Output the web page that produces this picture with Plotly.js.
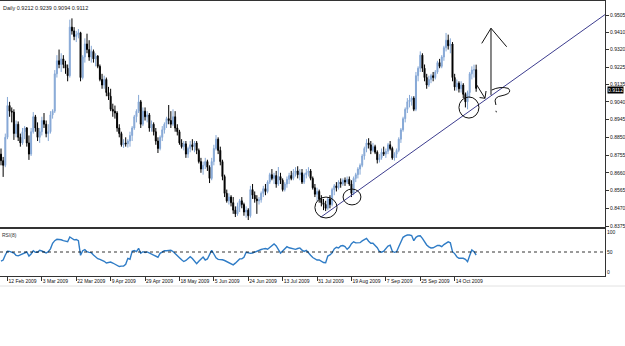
<!DOCTYPE html>
<html>
<head>
<meta charset="utf-8">
<script src="https://cdn.plot.ly/plotly-3.0.1.min.js"></script>
<style>html,body{margin:0;padding:0;background:#fff;}#chart{width:625px;height:346px;}</style>
</head>
<body>
<div id="chart"></div>
<script>
// ---- data (bar index 0..221, daily bars) ----
const barIndex = Array.from({length: 222}, (_, i) => i);

const openP = [
.8760,.8725,.8700,.8850,.9020,.8990,.8985,.8870,.8920,.8850,
.8820,.8880,.8900,.8820,.8760,.8880,.8960,.8900,.8850,.8880,
.8940,.8920,.8870,.8880,.8970,.8990,.9190,.9260,.9240,.9270,
.9240,.9220,.9180,.9440,.9420,.9390,.9400,.9410,.9170,.9280,
.9350,.9320,.9280,.9310,.9270,.9285,.9230,.9160,.9130,.9160,
.9090,.9070,.9000,.8990,.8980,.8900,.8870,.8810,.8820,.8815,
.8830,.8860,.8900,.8960,.8990,.9040,.8920,.8990,.8960,.8970,
.8900,.8920,.8880,.8830,.8790,.8850,.8890,.8920,.8950,.8940,
.8920,.8960,.8900,.8880,.8820,.8800,.8815,.8760,.8790,.8810,
.8800,.8820,.8780,.8720,.8680,.8700,.8720,.8690,.8630,.8720,
.8790,.8840,.8780,.8720,.8640,.8550,.8510,.8530,.8500,.8460,
.8440,.8480,.8510,.8490,.8450,.8460,.8430,.8570,.8540,.8520,
.8510,.8515,.8550,.8575,.8560,.8610,.8650,.8630,.8645,.8600,
.8640,.8620,.8570,.8600,.8625,.8645,.8630,.8660,.8670,.8650,
.8660,.8610,.8650,.8660,.8670,.8630,.8580,.8545,.8560,.8520,
.8500,.8490,.8470,.8520,.8490,.8570,.8590,.8580,.8610,.8600,
.8620,.8610,.8625,.8600,.8550,.8630,.8650,.8680,.8700,.8750,
.8790,.8820,.8810,.8780,.8800,.8770,.8730,.8740,.8770,.8760,
.8775,.8810,.8790,.8740,.8760,.8780,.8840,.8890,.8950,.9000,
.9040,.9050,.9060,.9000,.9180,.9220,.9290,.9220,.9170,.9130,
.9160,.9180,.9170,.9200,.9250,.9230,.9280,.9330,.9370,.9340,
.9350,.9170,.9120,.9140,.9110,.9130,.9080,.9040,.9090,.9190,
.9210,.9212];

const highP = [
.8790,.8745,.8870,.9066,.9040,.9010,.9000,.8940,.8935,.8870,
.8900,.8910,.8905,.8860,.8900,.8985,.8970,.8930,.8900,.8960,
.8980,.8940,.8920,.8990,.9000,.9210,.9290,.9320,.9300,.9290,
.9260,.9240,.9480,.9487,.9440,.9420,.9430,.9415,.9290,.9380,
.9405,.9370,.9340,.9320,.9300,.9290,.9240,.9190,.9180,.9170,
.9120,.9110,.9030,.9020,.8990,.8920,.8880,.8840,.8850,.8840,
.8880,.8910,.8970,.9000,.9077,.9050,.9010,.9010,.8990,.8980,
.8940,.8930,.8900,.8850,.8860,.8910,.8930,.8960,.9023,.8990,
.9000,.8990,.8920,.8890,.8840,.8830,.8830,.8800,.8830,.8840,
.8830,.8830,.8790,.8740,.8720,.8740,.8730,.8700,.8740,.8810,
.8862,.8850,.8800,.8730,.8650,.8570,.8550,.8540,.8530,.8480,
.8500,.8520,.8530,.8500,.8480,.8470,.8590,.8600,.8560,.8540,
.8530,.8560,.8590,.8600,.8620,.8660,.8680,.8660,.8670,.8691,
.8660,.8630,.8610,.8640,.8660,.8670,.8680,.8690,.8695,.8680,
.8680,.8660,.8680,.8690,.8680,.8640,.8600,.8580,.8570,.8540,
.8520,.8510,.8530,.8540,.8580,.8600,.8610,.8620,.8630,.8630,
.8635,.8640,.8640,.8620,.8640,.8660,.8690,.8710,.8760,.8800,
.8840,.8845,.8830,.8820,.8810,.8780,.8760,.8790,.8800,.8790,
.8820,.8830,.8800,.8770,.8790,.8850,.8900,.8960,.9010,.9060,
.9077,.9070,.9070,.9200,.9230,.9310,.9300,.9240,.9190,.9180,
.9190,.9200,.9210,.9260,.9270,.9290,.9340,.9409,.9400,.9380,
.9360,.9190,.9160,.9150,.9150,.9140,.9090,.9100,.9200,.9230,
.9239,.9239];

const lowP = [
.8700,.8638,.8690,.8840,.8960,.8930,.8836,.8850,.8830,.8800,
.8810,.8840,.8800,.8729,.8750,.8870,.8880,.8830,.8820,.8860,
.8900,.8850,.8830,.8870,.8950,.8980,.9170,.9220,.9200,.9220,
.9190,.9150,.9170,.9400,.9370,.9360,.9380,.9150,.9160,.9250,
.9300,.9260,.9250,.9250,.9230,.9220,.9150,.9110,.9110,.9070,
.9050,.8990,.8960,.8950,.8880,.8850,.8800,.8793,.8800,.8795,
.8800,.8830,.8890,.8930,.8980,.8900,.8910,.8940,.8930,.8880,
.8880,.8860,.8810,.8766,.8780,.8830,.8870,.8900,.8920,.8900,
.8910,.8880,.8860,.8810,.8790,.8780,.8740,.8740,.8770,.8780,
.8770,.8760,.8710,.8660,.8650,.8680,.8670,.8605,.8620,.8700,
.8780,.8760,.8700,.8620,.8530,.8500,.8490,.8480,.8440,.8423,
.8430,.8450,.8470,.8430,.8420,.8407,.8420,.8520,.8500,.8440,
.8490,.8500,.8530,.8540,.8550,.8600,.8620,.8600,.8580,.8590,
.8600,.8560,.8560,.8580,.8600,.8620,.8620,.8640,.8630,.8620,
.8600,.8600,.8630,.8640,.8620,.8570,.8530,.8510,.8500,.8480,
.8460,.8455,.8460,.8470,.8480,.8540,.8560,.8570,.8580,.8590,
.8590,.8600,.8590,.8530,.8540,.8610,.8630,.8650,.8690,.8730,
.8770,.8790,.8760,.8770,.8760,.8710,.8715,.8730,.8750,.8740,
.8760,.8780,.8730,.8725,.8740,.8770,.8820,.8880,.8930,.8980,
.9010,.9020,.8990,.8990,.9150,.9200,.9200,.9150,.9110,.9120,
.9140,.9150,.9160,.9190,.9220,.9220,.9260,.9310,.9320,.9300,
.9150,.9100,.9100,.9090,.9090,.9060,.9010,.9000,.9060,.9160,
.9170,.9094];

const closeP = [
.8725,.8700,.8850,.9020,.8990,.8985,.8870,.8920,.8850,.8820,
.8880,.8900,.8820,.8760,.8880,.8960,.8900,.8850,.8880,.8940,
.8920,.8870,.8880,.8970,.8990,.9190,.9260,.9240,.9270,.9240,
.9220,.9180,.9440,.9420,.9390,.9400,.9410,.9170,.9280,.9350,
.9320,.9280,.9310,.9270,.9285,.9230,.9160,.9130,.9160,.9090,
.9070,.9000,.8990,.8980,.8900,.8870,.8810,.8820,.8815,.8830,
.8860,.8900,.8960,.8990,.9040,.8920,.8990,.8960,.8970,.8900,
.8920,.8880,.8830,.8790,.8850,.8890,.8920,.8950,.8940,.8920,
.8960,.8900,.8880,.8820,.8800,.8815,.8760,.8790,.8810,.8800,
.8820,.8780,.8720,.8680,.8700,.8720,.8690,.8630,.8720,.8790,
.8840,.8780,.8720,.8640,.8550,.8510,.8530,.8500,.8460,.8440,
.8480,.8510,.8490,.8450,.8460,.8430,.8570,.8540,.8520,.8510,
.8515,.8550,.8575,.8560,.8610,.8650,.8630,.8645,.8600,.8640,
.8620,.8570,.8600,.8625,.8645,.8630,.8660,.8670,.8650,.8660,
.8610,.8650,.8660,.8670,.8630,.8580,.8545,.8560,.8520,.8500,
.8490,.8470,.8520,.8490,.8570,.8590,.8580,.8610,.8600,.8620,
.8610,.8625,.8600,.8550,.8630,.8650,.8680,.8700,.8750,.8790,
.8820,.8810,.8780,.8800,.8770,.8730,.8740,.8770,.8760,.8775,
.8810,.8790,.8740,.8760,.8780,.8840,.8890,.8950,.9000,.9040,
.9050,.9060,.9000,.9180,.9220,.9290,.9220,.9170,.9130,.9160,
.9180,.9170,.9200,.9250,.9230,.9280,.9330,.9370,.9340,.9350,
.9170,.9120,.9140,.9110,.9130,.9080,.9040,.9090,.9190,.9210,
.9212,.9112];

const rsiValues = [
27.1,29.8,42.5,52.1,51.7,49.2,47.5,41.7,40.3,42.9,
45.8,48.3,50.0,40.0,45.0,53.3,49.2,49.2,54.2,52.5,
50.0,47.5,50.8,57.9,71.7,78.3,81.7,81.7,80.5,78.3,
76.7,75.8,87.5,83.3,80.4,81.4,78.3,41.7,53.3,55.8,
50.8,49.2,48.3,42.5,37.5,33.3,31.7,30.0,26.7,22.5,
24.2,25.0,22.5,20.0,16.7,13.7,14.8,15.0,19.2,34.2,
31.9,51.9,53.8,51.2,59.2,47.0,50.8,48.8,50.3,47.5,
45.0,41.7,38.0,36.9,46.7,51.0,53.3,53.3,54.3,54.2,
51.3,46.7,41.2,35.8,30.4,26.2,28.9,33.3,38.3,33.8,
28.3,20.6,27.0,33.3,37.5,30.0,32.5,43.3,54.2,45.0,
35.4,31.7,31.7,30.5,28.7,25.8,23.3,20.6,17.9,22.1,
27.5,32.8,33.0,36.7,49.2,47.0,46.7,47.5,50.2,52.9,
55.2,56.3,57.7,58.6,56.8,62.2,67.5,70.4,65.0,56.0,
47.3,52.7,58.0,63.3,60.6,59.2,59.2,56.7,58.8,60.2,
54.8,51.5,54.2,49.2,41.7,36.2,32.5,30.0,30.0,26.2,
23.6,23.3,40.0,42.5,47.8,57.5,61.7,60.0,65.0,66.0,
63.3,56.7,61.7,70.8,75.5,72.8,72.3,73.3,77.7,81.3,
83.9,76.9,71.7,71.7,67.3,60.8,51.3,49.5,52.1,60.0,
65.0,67.1,51.7,49.2,50.7,63.3,75.8,86.7,90.4,92.5,
92.5,91.3,78.3,86.7,90.0,90.6,84.2,75.0,67.5,62.8,
60.2,60.5,63.6,66.3,66.1,63.3,68.6,72.6,75.5,72.9,
50.8,46.0,38.3,34.2,34.2,34.2,31.7,25.8,41.2,55.0,
50.8,42.5];

const dateTickIndex = [3,19,35,51,67,83,99,115,131,147,163,179,195,211];
const dateTickText = ["12 Feb 2009","3 Mar 2009","22 Mar 2009","9 Apr 2009","29 Apr 2009",
  "18 May 2009","5 Jun 2009","24 Jun 2009","13 Jul 2009","31 Jul 2009","19 Aug 2009",
  "7 Sep 2009","25 Sep 2009","14 Oct 2009"];
const priceTicks = [0.9505,0.9410,0.9320,0.9225,0.9135,0.9040,0.8945,0.8850,0.8755,0.8660,0.8565,0.8470,0.8375];
const rsiTicks = [0,50,100];
const rsiLevel = 50;
const lastPrice = 0.9112;
const headerText = "Daily 0.9212 0.9239 0.9094 0.9112";
const rsiLabel = "RSI(8)";

// ---- chart ----
const FONT = "Liberation Sans, Arial, sans-serif";
const upColor = "#86a8d6";
const dnColor = "#000000";

const traces = [
  {
    type: "candlestick",
    x: barIndex, open: openP, high: highP, low: lowP, close: closeP,
    xaxis: "x", yaxis: "y",
    increasing: {line: {color: upColor, width: 1}, fillcolor: upColor},
    decreasing: {line: {color: dnColor, width: 1}, fillcolor: dnColor},
    whiskerwidth: 0,
    hoverinfo: "skip",
    showlegend: false
  },
  {
    type: "scatter", mode: "lines",
    x: barIndex, y: rsiValues,
    xaxis: "x2", yaxis: "y2",
    line: {color: "#2f7cc6", width: 1.4},
    hoverinfo: "skip",
    showlegend: false
  }
];

const lineCol = "#333";
const layout = {
  width: 625, height: 346,
  margin: {l: 0, r: 20, t: 1, b: 70},
  paper_bgcolor: "#fff", plot_bgcolor: "#fff",
  font: {family: FONT, size: 5, color: "#111"},
  showlegend: false,
  boxgap: 0.35,
  xaxis: {
    domain: [0, 1], anchor: "y",
    range: [-0.465, 280.93],
    showticklabels: false, ticks: "", showgrid: false, zeroline: false,
    showline: true, mirror: true, linecolor: lineCol, linewidth: 1,
    rangeslider: {visible: false}, fixedrange: true
  },
  xaxis2: {
    domain: [0, 1], anchor: "y2", matches: "x",
    range: [-0.465, 280.93],
    tickmode: "array", tickvals: dateTickIndex, ticktext: dateTickText,
    tickangle: 0,
    ticks: "outside", ticklen: 4, tickwidth: 1, tickcolor: lineCol,
    ticklabelposition: "outside right",
    tickfont: {family: FONT, size: 5, color: "#111"},
    showgrid: false, zeroline: false,
    showline: true, mirror: true, linecolor: lineCol, linewidth: 1,
    rangeslider: {visible: false}
  },
  yaxis: {
    domain: [0.1782, 1], anchor: "x", side: "right",
    range: [0.83697, 0.95800],
    tickmode: "array", tickvals: priceTicks, ticktext: priceTicks.map(v => v.toFixed(4)),
    ticks: "outside", ticklen: 3, tickcolor: lineCol,
    tickfont: {family: FONT, size: 5, color: "#111"},
    showgrid: false, zeroline: false,
    showline: true, linecolor: lineCol, linewidth: 1
  },
  yaxis2: {
    domain: [0, 0.1709], anchor: "x2", side: "right",
    range: [-10, 107.5],
    tickmode: "array", tickvals: rsiTicks, ticktext: rsiTicks.map(String),
    ticks: "", tickfont: {family: FONT, size: 5, color: "#111"},
    showgrid: false, zeroline: false,
    showline: true, linecolor: lineCol, linewidth: 1
  },
  shapes: [
    // RSI 50 level
    {type: "line", xref: "x2 domain", yref: "y2", x0: 0, x1: 1, y0: rsiLevel, y1: rsiLevel,
     line: {color: "#000", width: 0.8, dash: "dot"}},
    // trend line
    {type: "line", xref: "x", yref: "y", x0: 148.7, y0: 0.8422, x1: 280.9, y1: 0.9507,
     line: {color: "#3d3d8f", width: 1}},
    // circles
    {type: "circle", xref: "x", yref: "y", x0: 146.0, x1: 156.3, y0: 0.8418, y1: 0.8530,
     line: {color: "#111", width: 1}},
    {type: "circle", xref: "x", yref: "y", x0: 159.1, x1: 167.4, y0: 0.8488, y1: 0.8573,
     line: {color: "#111", width: 1}},
    {type: "circle", xref: "x", yref: "y", x0: 213.0, x1: 222.3, y0: 0.8953, y1: 0.9066,
     line: {color: "#111", width: 1}},
    // big up arrow
    {type: "path", xref: "x", yref: "y",
     path: "M 227.9 0.9077 L 227.9 0.9434 M 223.6 0.9353 L 227.9 0.9434 L 235.2 0.9335",
     line: {color: "#111", width: 1}},
    // small arrow
    {type: "path", xref: "x", yref: "y",
     path: "M 221.3 0.9130 L 225.1 0.9059 M 222.6 0.9063 L 225.1 0.9059 L 225.6 0.9098",
     line: {color: "#111", width: 1}},
    // squiggle
    {type: "path", xref: "x", yref: "y",
     path: "M 228.2 0.9103 Q 232.1 0.9125 236.0 0.9112 Q 237.8 0.9090 234.4 0.9077 L 231.3 0.9068 Q 229.6 0.9058 229.8 0.9045 L 230.2 0.9023 M 230.2 0.8992 L 230.4 0.8984",
     line: {color: "#111", width: 1}},
    // faint frame line under dates
    {type: "line", xref: "paper", yref: "paper", x0: 0, x1: 1.033, y0: -0.0364, y1: -0.0364,
     line: {color: "#e2e2e2", width: 1}}
  ],
  annotations: [
    {xref: "paper", yref: "paper", x: 0, y: 1, xanchor: "left", yanchor: "top",
     yshift: -2, xshift: 1, text: headerText, showarrow: false,
     font: {family: FONT, size: 5.5, color: "#222"}},
    {xref: "paper", yref: "y2", x: 0, y: 106, xanchor: "left", yanchor: "top",
     xshift: 0, text: rsiLabel, showarrow: false,
     font: {family: FONT, size: 5, color: "#333"}},
    {xref: "paper", yref: "y", x: 1, y: lastPrice, xanchor: "left", yanchor: "middle",
     xshift: 2, yshift: -2, text: lastPrice.toFixed(4), showarrow: false, bgcolor: "#000",
     borderpad: 0, font: {family: FONT, size: 5, color: "#fff"}}
  ]
};

Plotly.newPlot("chart", traces, layout, {staticPlot: true, displayModeBar: false});
</script>
</body>
</html>
